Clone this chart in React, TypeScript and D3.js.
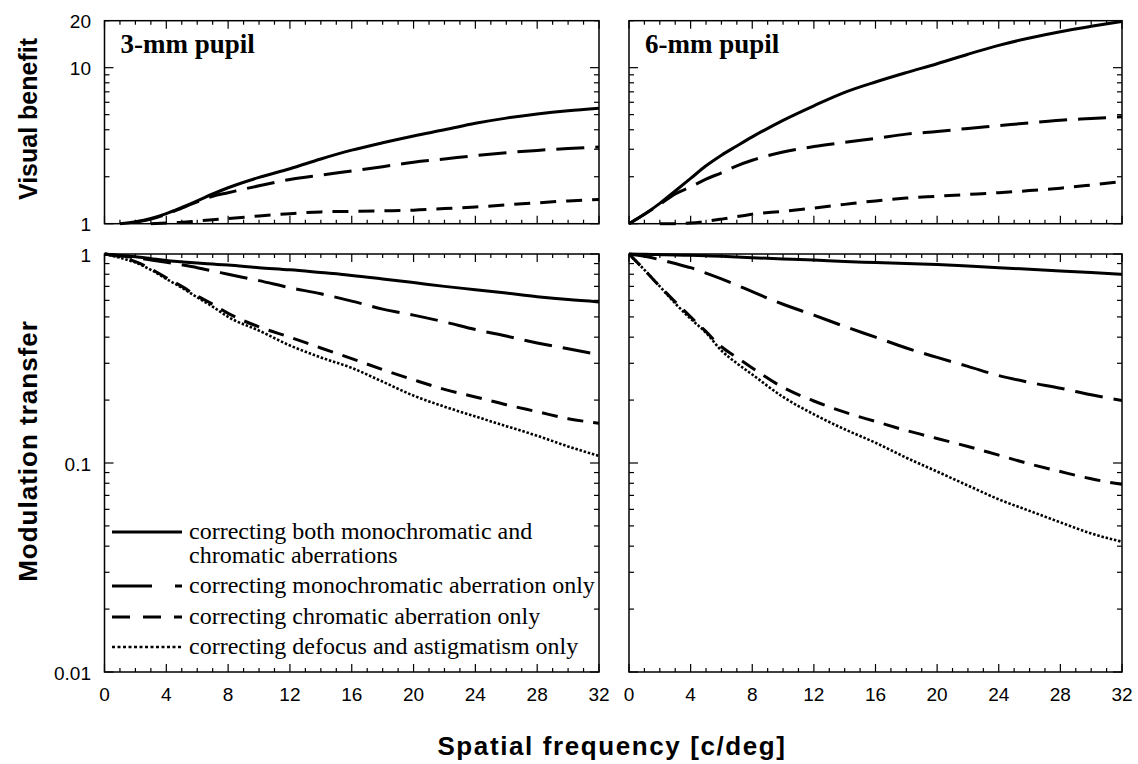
import React from 'react';
import * as d3 from 'd3';

// ---------------- data ----------------
const FREQ = [0, 1, 2, 3, 4, 5, 6, 7, 8, 10, 12, 14, 16, 18, 20, 22, 24, 26, 28, 30, 32];

// Visual benefit, 3-mm pupil
const vb3Both = [null, 1.0, 1.03, 1.08, 1.16, 1.27, 1.4, 1.55, 1.7, 1.98, 2.25, 2.6, 2.96, 3.3, 3.65, 4.0, 4.4, 4.75, 5.05, 5.3, 5.5];
const vb3Mono = [null, null, 1.02, 1.07, 1.15, 1.26, 1.38, 1.5, 1.58, 1.75, 1.92, 2.05, 2.18, 2.32, 2.48, 2.6, 2.73, 2.85, 2.95, 3.03, 3.1];
const vb3Chrom = [null, null, null, 1.0, 1.01, 1.02, 1.04, 1.06, 1.08, 1.12, 1.16, 1.19, 1.2, 1.21, 1.22, 1.25, 1.28, 1.32, 1.36, 1.4, 1.43];

// Visual benefit, 6-mm pupil
const vb6Both = [1.0, 1.15, 1.35, 1.62, 1.95, 2.35, 2.75, 3.15, 3.6, 4.6, 5.7, 6.95, 8.1, 9.3, 10.6, 12.2, 13.9, 15.5, 17.0, 18.4, 19.8];
const vb6Mono = [1.0, 1.15, 1.33, 1.55, 1.72, 1.93, 2.12, 2.35, 2.55, 2.88, 3.12, 3.32, 3.52, 3.75, 3.9, 4.08, 4.25, 4.43, 4.6, 4.72, 4.85];
const vb6Chrom = [null, null, 1.0, 1.0, 1.01, 1.035, 1.07, 1.11, 1.15, 1.2, 1.26, 1.33, 1.4, 1.46, 1.5, 1.54, 1.58, 1.63, 1.69, 1.77, 1.86];

// Modulation transfer, 3-mm pupil
const mt3Both = [1, 0.985, 0.97, 0.95, 0.93, 0.917, 0.905, 0.895, 0.885, 0.86, 0.84, 0.815, 0.79, 0.76, 0.73, 0.7, 0.675, 0.65, 0.625, 0.605, 0.59];
const mt3Mono = [1, 0.98, 0.96, 0.937, 0.913, 0.887, 0.86, 0.83, 0.8, 0.746, 0.69, 0.645, 0.595, 0.545, 0.51, 0.473, 0.435, 0.405, 0.375, 0.352, 0.33];
const mt3Chrom = [1, 0.97, 0.92, 0.85, 0.77, 0.7, 0.63, 0.575, 0.52, 0.448, 0.4, 0.355, 0.316, 0.28, 0.25, 0.225, 0.207, 0.19, 0.176, 0.163, 0.155];
const mt3Defoc = [1, 0.96, 0.91, 0.84, 0.76, 0.69, 0.62, 0.56, 0.5, 0.43, 0.365, 0.32, 0.285, 0.245, 0.21, 0.186, 0.167, 0.15, 0.135, 0.12, 0.108];

// Modulation transfer, 6-mm pupil
const mt6Both = [1, 0.997, 0.993, 0.99, 0.985, 0.98, 0.975, 0.967, 0.96, 0.947, 0.935, 0.92, 0.91, 0.9, 0.89, 0.875, 0.86, 0.845, 0.83, 0.815, 0.8];
const mt6Mono = [1, 0.975, 0.94, 0.9, 0.86, 0.81, 0.76, 0.71, 0.66, 0.575, 0.51, 0.45, 0.4, 0.355, 0.32, 0.29, 0.262, 0.243, 0.228, 0.212, 0.199];
const mt6Chrom = [1, 0.84, 0.7, 0.59, 0.5, 0.425, 0.36, 0.32, 0.285, 0.23, 0.198, 0.175, 0.158, 0.143, 0.131, 0.12, 0.109, 0.099, 0.091, 0.084, 0.079];
const mt6Defoc = [1, 0.84, 0.7, 0.58, 0.49, 0.42, 0.345, 0.3, 0.265, 0.207, 0.171, 0.145, 0.125, 0.106, 0.091, 0.078, 0.067, 0.059, 0.052, 0.046, 0.042];

const X_TICK_LABELS = [0, 4, 8, 12, 16, 20, 24, 28, 32];
const TOP_Y_LABELS = [1, 10, 20];
const BOTTOM_Y_LABELS = [0.01, 0.1, 1];

const LEGEND_LABELS = [
  ['correcting both monochromatic and', 'chromatic aberrations'],
  ['correcting monochromatic aberration only'],
  ['correcting chromatic aberration only'],
  ['correcting defocus and astigmatism only'],
];
const PANEL_TITLES = ['3-mm pupil', '6-mm pupil'];

// ---------------- styles ----------------
const STYLES: Record<string, { dash: string; width: number }> = {
  both: { dash: 'none', width: 3 },
  mono: { dash: '28,11', width: 3 },
  chrom: { dash: '16,10', width: 3 },
  defoc: { dash: '2.5,1.8', width: 2.6 },
};
const LEGEND_DASH: Record<string, string> = {
  both: 'none',
  mono: '40,23',
  chrom: '18,13',
  defoc: '3,2.5',
};

const SANS = "'Liberation Sans', Arial, Helvetica, sans-serif";
const SERIF = "'Liberation Serif', 'Times New Roman', Times, serif";

const COLS = [
  { x0: 104.5, x1: 599 },
  { x0: 629, x1: 1122 },
];
const ROWS = [
  { y0: 20.7, y1: 223.7, domain: [1, 20] },
  { y0: 254, y1: 672, domain: [0.01, 1] },
];

type Series = { key: string; values: (number | null)[] };

function Panel({ col, row, series, showYLabels, showXLabels, title, clipId }: any) {
  const x = d3.scaleLinear().domain([0, 32]).range([col.x0, col.x1]);
  const y = d3.scaleLog().domain(row.domain).range([row.y1, row.y0]);
  const line = d3
    .line<[number, number | null]>()
    .defined((d) => d[1] != null)
    .x((d) => x(d[0]))
    .y((d) => y(d[1] as number))
    .curve(d3.curveMonotoneX);

  const xTicks = d3.range(0, 33, 1);
  const [lo, hi] = row.domain;
  const yTicks: { v: number; major: boolean }[] = [];
  for (let dec = Math.floor(Math.log10(lo)); dec <= Math.ceil(Math.log10(hi)); dec++) {
    for (let m = 1; m <= 9; m++) {
      const v = m * Math.pow(10, dec);
      if (v >= lo - 1e-9 && v <= hi + 1e-9) yTicks.push({ v, major: m === 1 });
    }
  }
  const yLabels = row.domain[1] === 20 ? TOP_Y_LABELS : BOTTOM_Y_LABELS;

  return (
    <g>
      <defs>
        <clipPath id={clipId}>
          <rect x={col.x0} y={row.y0 - 2} width={col.x1 - col.x0} height={row.y1 - row.y0 + 4} />
        </clipPath>
      </defs>
      {xTicks.map((t) => {
        const len = t % 4 === 0 ? 8 : 4;
        return (
          <g key={'xt' + t}>
            <line x1={x(t)} x2={x(t)} y1={row.y1} y2={row.y1 - len} stroke="#000" strokeWidth={1.2} />
            <line x1={x(t)} x2={x(t)} y1={row.y0} y2={row.y0 + len} stroke="#000" strokeWidth={1.2} />
          </g>
        );
      })}
      {yTicks.map((t, i) => {
        const len = t.major ? 9 : 5;
        return (
          <g key={'yt' + i}>
            <line x1={col.x0} x2={col.x0 + len} y1={y(t.v)} y2={y(t.v)} stroke="#000" strokeWidth={1.2} />
            <line x1={col.x1} x2={col.x1 - len} y1={y(t.v)} y2={y(t.v)} stroke="#000" strokeWidth={1.2} />
          </g>
        );
      })}
      <rect x={col.x0} y={row.y0} width={col.x1 - col.x0} height={row.y1 - row.y0} fill="none" stroke="#000" strokeWidth={1.5} />
      <g clipPath={`url(#${clipId})`}>
        {series.map((s: Series) => (
          <path
            key={s.key}
            d={line(FREQ.map((f, i) => [f, s.values[i]]) as any) || ''}
            fill="none"
            stroke="#000"
            strokeWidth={STYLES[s.key].width}
            strokeDasharray={STYLES[s.key].dash}
            strokeLinejoin="round"
          />
        ))}
      </g>
      {showYLabels &&
        yLabels.map((v) => (
          <text key={'yl' + v} x={91} y={y(v) + 1} textAnchor="end" dominantBaseline="central" style={{ fontFamily: SANS, fontSize: '19px' }}>
            {String(v)}
          </text>
        ))}
      {showXLabels &&
        X_TICK_LABELS.map((v) => (
          <text key={'xl' + v} x={x(v)} y={701} textAnchor="middle" style={{ fontFamily: SANS, fontSize: '19px' }}>
            {String(v)}
          </text>
        ))}
      {title && (
        <text x={col.x0 + 16} y={53} style={{ fontFamily: SERIF, fontWeight: 'bold', fontSize: '27px' }}>
          {title}
        </text>
      )}
    </g>
  );
}

function Legend() {
  const lx0 = 112;
  const lx1 = 182;
  const keys = ['both', 'mono', 'chrom', 'defoc'];
  const ys = [532, 586, 617, 647];
  return (
    <g>
      {keys.map((k, i) => (
        <g key={k}>
          <line x1={lx0} x2={lx1} y1={ys[i]} y2={ys[i]} stroke="#000" strokeWidth={k === 'defoc' ? 2.6 : 3} strokeDasharray={LEGEND_DASH[k]} />
          {LEGEND_LABELS[i].map((t, j) => (
            <text key={j} x={189} y={ys[i] + 7 + j * 24} style={{ fontFamily: SERIF, fontSize: '24px' }}>
              {t}
            </text>
          ))}
        </g>
      ))}
    </g>
  );
}

export default function App() {
  const topSeries: Series[][] = [
    [
      { key: 'both', values: vb3Both },
      { key: 'mono', values: vb3Mono },
      { key: 'chrom', values: vb3Chrom },
    ],
    [
      { key: 'both', values: vb6Both },
      { key: 'mono', values: vb6Mono },
      { key: 'chrom', values: vb6Chrom },
    ],
  ];
  const botSeries: Series[][] = [
    [
      { key: 'both', values: mt3Both },
      { key: 'mono', values: mt3Mono },
      { key: 'chrom', values: mt3Chrom },
      { key: 'defoc', values: mt3Defoc },
    ],
    [
      { key: 'both', values: mt6Both },
      { key: 'mono', values: mt6Mono },
      { key: 'chrom', values: mt6Chrom },
      { key: 'defoc', values: mt6Defoc },
    ],
  ];

  const titleStyle = { fontFamily: SANS, fontWeight: 'bold' as const, fontSize: '26px' };

  return (
    <svg width={1138} height={764} style={{ position: 'absolute', left: 0, top: 0, background: '#fff' }}>
      <rect x={0} y={0} width={1138} height={764} fill="#fff" />
      {COLS.map((c, i) => (
        <Panel key={'t' + i} col={c} row={ROWS[0]} series={topSeries[i]} showYLabels={i === 0} showXLabels={false} title={PANEL_TITLES[i]} clipId={'ct' + i} />
      ))}
      {COLS.map((c, i) => (
        <Panel key={'b' + i} col={c} row={ROWS[1]} series={botSeries[i]} showYLabels={i === 0} showXLabels={true} clipId={'cb' + i} />
      ))}
      <Legend />
      <text transform="translate(37,119) rotate(-90)" textAnchor="middle" style={{ ...titleStyle, fontSize: '25px' }}>
        Visual benefit
      </text>
      <text transform="translate(37,451) rotate(-90)" textAnchor="middle" style={{ ...titleStyle, letterSpacing: '1px' }}>
        Modulation transfer
      </text>
      <text x={612} y={755} textAnchor="middle" style={{ ...titleStyle, letterSpacing: '1.6px' }}>
        Spatial frequency [c/deg]
      </text>
    </svg>
  );
}
